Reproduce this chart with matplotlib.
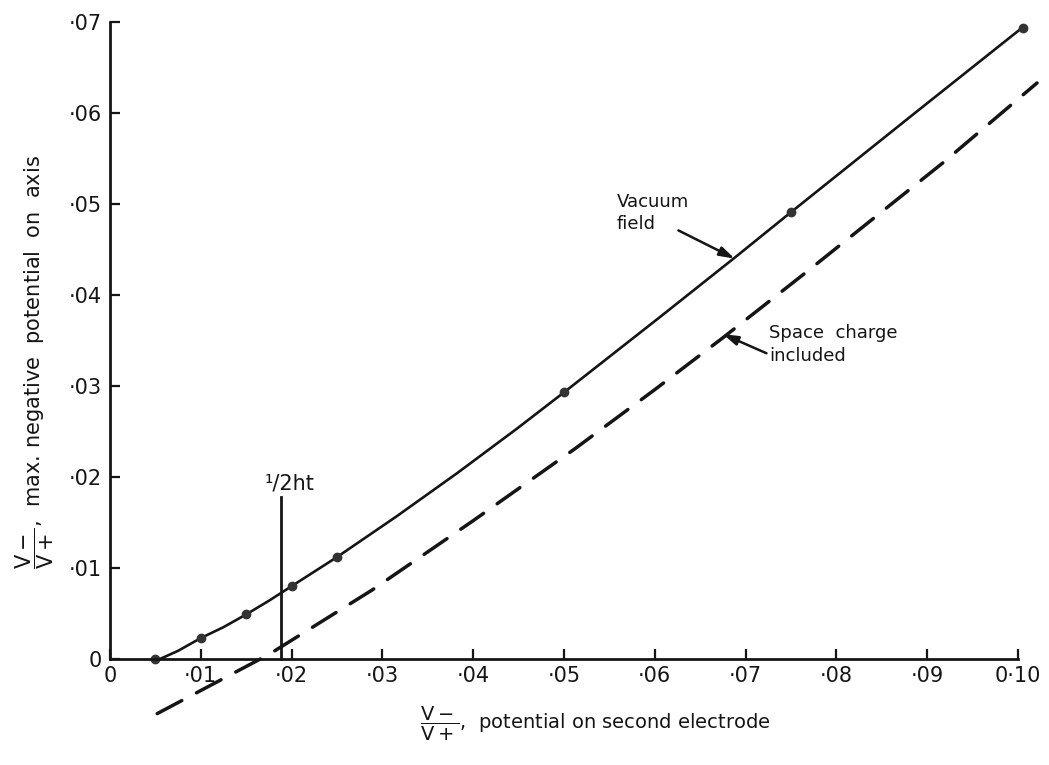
import numpy as np
import matplotlib
matplotlib.use("Agg")
from matplotlib import pyplot as plt

# values
vac_pts_x = [0.005, 0.010, 0.015, 0.020, 0.025, 0.050, 0.075, 0.1005]
vac_pts_y = [0.0, 0.0023, 0.0049, 0.0080, 0.0112, 0.0293, 0.0491, 0.0693]

vac_curve_x = [0.0055, 0.0075, 0.010, 0.0125, 0.015, 0.0175, 0.020, 0.0225, 0.025,
               0.0316, 0.0382, 0.0448, 0.050, 0.0606, 0.0688, 0.075, 0.0884, 0.1005]
vac_curve_y = [0.0, 0.0009, 0.0023, 0.0035, 0.0049, 0.0064, 0.0080, 0.0096, 0.0112,
               0.0157, 0.0204, 0.0253, 0.0293, 0.0376, 0.0441, 0.0491, 0.0598, 0.0694]

sc_curve_x = [0.0052, 0.0175, 0.0289, 0.040, 0.0512, 0.060, 0.0675, 0.0768, 0.0917, 0.1021]
sc_curve_y = [-0.0060, 0.0005, 0.0076, 0.0152, 0.0231, 0.0296, 0.0353, 0.0426, 0.0545, 0.0633]

half_ht_x = 0.0188
half_ht_top = 0.0178

x_ticks = [0, 0.01, 0.02, 0.03, 0.04, 0.05, 0.06, 0.07, 0.08, 0.09, 0.10]
x_labels = ['0', '·01', '·02', '·03', '·04', '·05', '·06', '·07', '·08', '·09', '0·10']
y_ticks = [0, 0.01, 0.02, 0.03, 0.04, 0.05, 0.06, 0.07]
y_labels = ['0', '·01', '·02', '·03', '·04', '·05', '·06', '·07']

plt.rcParams['font.family'] = 'DejaVu Sans'
plt.rcParams['mathtext.fontset'] = 'dejavusans'
plt.rcParams['mathtext.default'] = 'regular'

ink = '#151515'

fig = plt.figure(figsize=(10.49, 7.65), dpi=100)
ax = fig.add_axes([110 / 1049, (765 - 745.45) / 765, 935.2 / 1049, 741.65 / 765])
ax.set_xlim(0, 0.103)
ax.set_ylim(-0.0095, 0.072)

ax.plot(vac_curve_x, vac_curve_y, color=ink, lw=1.9, solid_capstyle='round',
        solid_joinstyle='round', clip_on=False)
ax.plot(vac_pts_x, vac_pts_y, 'o', color='#333333', ms=6, clip_on=False)
ax.plot(sc_curve_x, sc_curve_y, color=ink, lw=2.5, dashes=(8, 4.8),
        dash_capstyle='round', dash_joinstyle='round', clip_on=False)
ax.plot([half_ht_x, half_ht_x], [0, half_ht_top], color=ink, lw=2.0)
ax.text(0.0170, 0.0182, '¹/2ht', fontsize=15, color=ink, ha='left', va='bottom')

arrow = dict(arrowstyle='-|>,head_length=0.9,head_width=0.28', lw=1.8, color=ink,
             shrinkA=0, shrinkB=0)
ax.annotate('', xy=(0.0688, 0.0440), xytext=(0.0626, 0.0471), arrowprops=arrow)
ax.text(0.0558, 0.0512, 'Vacuum\nfield', fontsize=13, color=ink, ha='left', va='top',
        linespacing=1.25)
ax.annotate('', xy=(0.0675, 0.0357), xytext=(0.0723, 0.0336), arrowprops=arrow)
ax.text(0.0726, 0.0368, 'Space  charge\nincluded', fontsize=13, color=ink, ha='left',
        va='top', linespacing=1.35)

for side in ['top', 'right']:
    ax.spines[side].set_visible(False)
ax.spines['left'].set_bounds(0, 0.07)
ax.spines['bottom'].set_bounds(0, 0.10)
ax.spines['bottom'].set_position(('data', 0))
for side in ['left', 'bottom']:
    ax.spines[side].set_linewidth(2.0)
    ax.spines[side].set_color(ink)

ax.set_xticks(x_ticks)
ax.set_xticklabels(x_labels)
ax.set_yticks(y_ticks)
ax.set_yticklabels(y_labels)
ax.tick_params(direction='in', length=7, width=1.6, color=ink, labelsize=15,
               labelcolor=ink)
ax.tick_params(axis='y', pad=6)
ax.tick_params(axis='x', pad=5)

fig.text(595 / 1049, 1 - 724 / 765,
         r'$\dfrac{V-}{V+}$,  potential on second electrode',
         fontsize=14, color=ink, ha='center', va='center')
fig.text(35 / 1049, 1 - 362 / 765,
         r'$\dfrac{V-}{V+}$,  max. negative  potential  on  axis',
         fontsize=15, color=ink, ha='center', va='center', rotation=90)

fig.savefig('out.png', dpi=100, facecolor='white')
